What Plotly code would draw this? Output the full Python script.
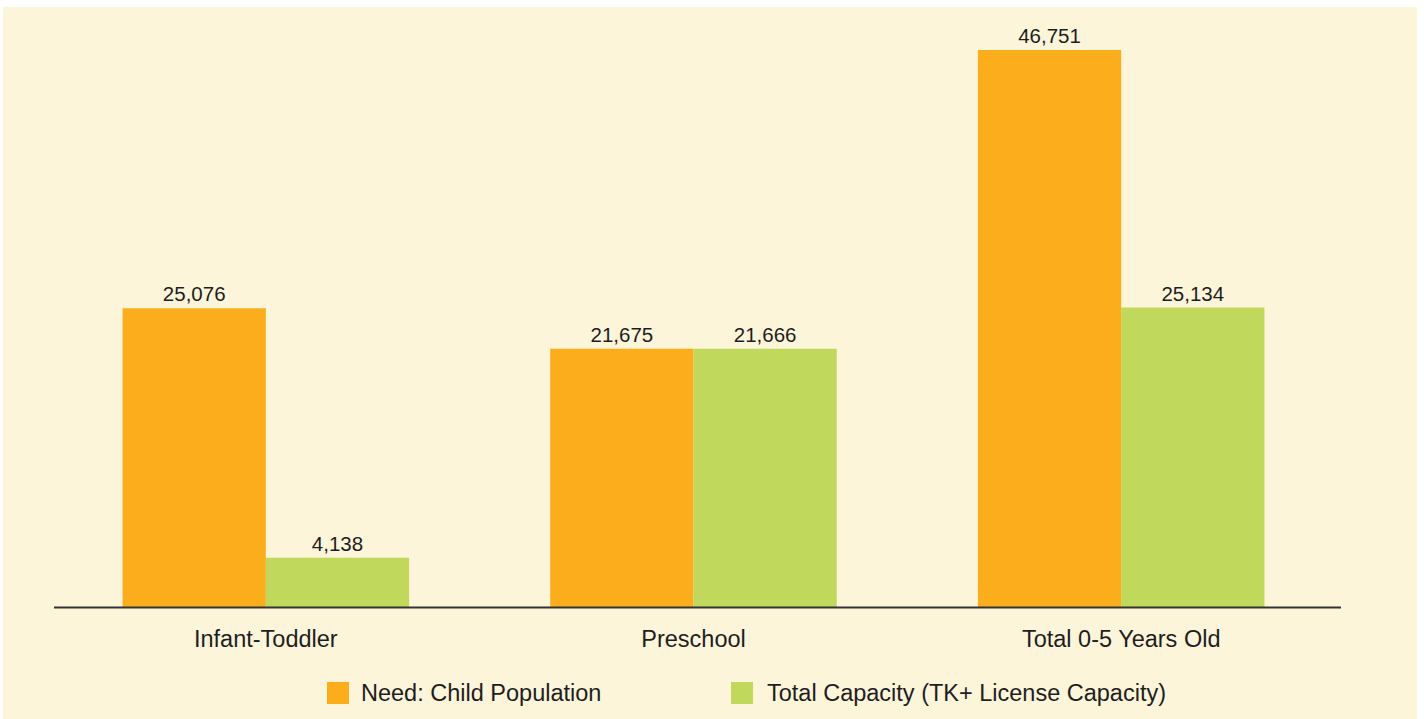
import plotly.graph_objects as go

# Child care need vs capacity by age group
categories = ["Infant-Toddler", "Preschool", "Total 0-5 Years Old"]
need_values = [25076, 21675, 46751]
capacity_values = [4138, 21666, 25134]
series_names = ["Need: Child Population", "Total Capacity (TK+ License Capacity)"]

ORANGE = "#FBAD1B"
GREEN = "#C0D85B"
CREAM = "#FDF5DA"
TEXT = "#1E1E1E"
FONT = "Liberation Sans, Arial, sans-serif"

W, H = 1424, 719
L, R, T, B = 52, 89, 20, 112
PW, PH = W - L - R, H - T - B


def px_x(px):
    return (px - L) / PW


def px_y(py):
    return (H - B - py) / PH


fig = go.Figure()
for name, vals, col in [(series_names[0], need_values, ORANGE),
                        (series_names[1], capacity_values, GREEN)]:
    fig.add_trace(go.Bar(
        x=categories, y=vals, name=name, marker=dict(color=col, line=dict(width=0)),
        text=[f"{v:,}" for v in vals], textposition="outside",
        textfont=dict(size=20.5, color=TEXT, family=FONT), cliponaxis=False,
        showlegend=False,
    ))

shapes = [
    # cream panel behind everything
    dict(type="rect", xref="paper", yref="paper", layer="below",
         x0=px_x(3), x1=px_x(1417), y0=px_y(719), y1=px_y(7),
         fillcolor=CREAM, line=dict(width=0)),
    # baseline
    dict(type="line", xref="paper", yref="paper",
         x0=px_x(54), x1=px_x(1341), y0=px_y(607.5), y1=px_y(607.5),
         line=dict(color="#333333", width=2)),
]
annotations = []
legend_items = [(327, 359, ORANGE, series_names[0]), (731, 765, GREEN, series_names[1])]
for sx, tx, col, label in legend_items:
    shapes.append(dict(type="rect", xref="paper", yref="paper",
                       x0=px_x(sx), x1=px_x(sx + 22), y0=px_y(704), y1=px_y(682),
                       fillcolor=col, line=dict(width=0)))
    annotations.append(dict(xref="paper", yref="paper", x=px_x(tx), y=px_y(693),
                            xanchor="left", yanchor="middle", showarrow=False,
                            text=label, font=dict(size=23.5, color=TEXT, family=FONT)))

fig.update_layout(
    width=W, height=H, margin=dict(l=L, r=R, t=T, b=B),
    paper_bgcolor="white", plot_bgcolor="rgba(0,0,0,0)",
    barmode="group", bargap=0.33, bargroupgap=0,
    shapes=shapes, annotations=annotations,
    font=dict(family=FONT, color=TEXT),
)
fig.update_xaxes(showline=False, showgrid=False, ticks="", zeroline=False,
                 tickfont=dict(size=23.5, color=TEXT, family=FONT), ticklabelstandoff=15)
fig.update_yaxes(visible=False, range=[0, 49269], showgrid=False, zeroline=False)

fig.write_html("out.html")
